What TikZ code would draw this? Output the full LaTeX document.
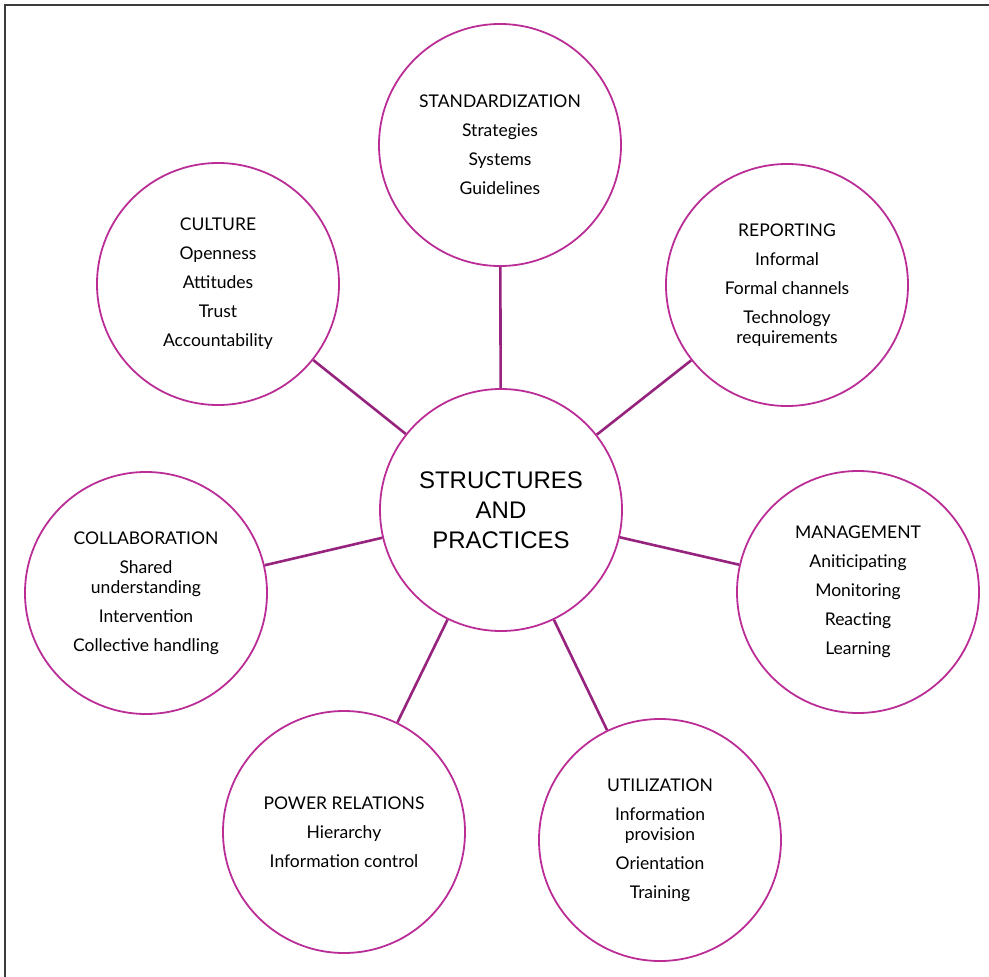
\documentclass[tikz,border=0pt]{standalone}
\usepackage{fontspec}
\setmainfont{Lato}
\newfontfamily\hubfont{Liberation Sans}
\definecolor{ringcol}{RGB}{186,45,150}
\definecolor{linkcol}{RGB}{150,35,125}
\definecolor{framecol}{RGB}{60,60,60}
\tikzset{
  topic/.style={circle, draw=ringcol, line width=1.8pt, minimum size=242pt,
    inner sep=0pt, align=center, font=\fontsize{17.5}{20}\selectfont},
  hub/.style={topic, font=\hubfont\fontsize{24}{30}\selectfont},
  link/.style={draw=linkcol, line width=2.6pt}
}
\begin{document}
\begin{tikzpicture}[x=1pt,y=-1pt]
\useasboundingbox (0,0) rectangle (989,977);
% frame
\draw[framecol, line width=1.6pt] (989,5) -- (5,5) -- (5,977);
% middle
\node[hub] (core) at (501,510) {STRUCTURES\\AND\\PRACTICES};
% ring of topics
\node[topic] (std) at (500,145) {STANDARDIZATION\\[9pt]Strategies\\[9pt]Systems\\[9pt]Guidelines};
\node[topic] (rep) at (787,285) {REPORTING\\[9pt]Informal\\[9pt]Formal channels\\[9pt]Technology\\requirements};
\node[topic] (man) at (858,592) {MANAGEMENT\\[9pt]Aniticipating\\[9pt]Monitoring\\[9pt]Reacting\\[9pt]Learning};
\node[topic] (uti) at (660,840) {UTILIZATION\\[9pt]Information\\provision\\[9pt]Orientation\\[9pt]Training};
\node[topic] (pow) at (344,832) {POWER RELATIONS\\[9pt]Hierarchy\\[9pt]Information control};
\node[topic] (col) at (146,593) {COLLABORATION\\[9pt]Shared\\understanding\\[9pt]Intervention\\[9pt]Collective handling};
\node[topic] (cul) at (218,284) {CULTURE\\[9pt]Openness\\[9pt]Attitudes\\[9pt]Trust\\[9pt]Accountability};
% spokes
\foreach \t in {std,rep,man,uti,pow,col,cul}
\draw[link] (core) -- (\t);
\end{tikzpicture}
\end{document}
